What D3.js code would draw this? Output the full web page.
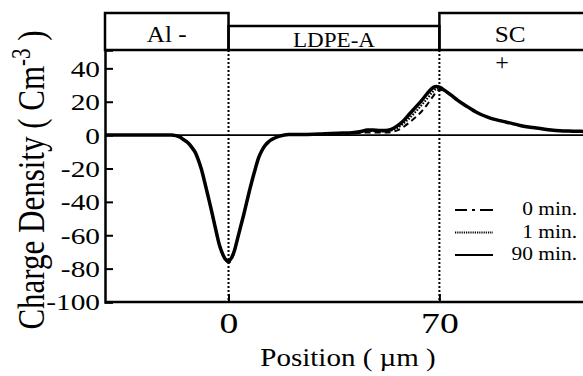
<!DOCTYPE html>
<html>
<head>
<meta charset="utf-8">
<script src="https://cdn.jsdelivr.net/npm/d3@7"></script>
<style>
  body { margin: 0; background: #fff; }
  svg { display: block; }
  text { font-family: 'Liberation Serif', 'Times New Roman', serif; fill: #000; }
</style>
</head>
<body>
<svg id="chart" width="583" height="376"></svg>
<script>
const positions = [-41, -25, -19, -17.5, -16, -15, -14, -13, -12, -11, -10, -9, -8, -7, -6, -5, -4, -3, -2, -1,
  0, 1, 2, 3, 4, 5, 6, 7, 8, 9, 10, 11, 12, 13, 14, 15,
  17, 20, 25, 30, 34, 38, 41, 44, 46, 48, 50, 52, 54, 56, 58, 60, 62, 64, 66, 68, 69, 70,
  72, 74, 76, 78, 80, 82, 84, 86, 88, 90, 92, 95, 98, 101, 104, 107, 110, 113, 116, 118]
const min0 = [0, 0, 0, -0.3, -1.3, -2.6, -3.8, -5.5, -7.8, -10.5, -15, -20.5, -27.5, -35, -42.5, -50.5, -58.5, -66, -71.5, -75,
  -76.5, -74.5, -69.5, -62, -55, -48, -40.5, -33, -26, -19.5, -13.5, -9.5, -6.5, -4.5, -3, -2,
  -0.6, 0.2, 0.3, 0.5, 0.8, 1, 1.1, 1.4, 1.6, 1.6, 1.5, 1.5, 1.8, 2.8, 4.8, 7.5, 10.5, 14, 18.5, 23.5, 26, 27.2,
  26.3, 23.8, 21, 18.5, 16.3, 14, 12.2, 10.8, 9.6, 8.7, 7.9, 6.6, 5.3, 4.5, 3.8, 3.1, 2.6, 2.4, 2.3, 2.2]
const min1 = [0, 0, 0, -0.3, -1.3, -2.6, -3.8, -5.5, -7.8, -10.5, -15, -20.5, -27.5, -35, -42.5, -50.5, -58.5, -66, -71, -74.5,
  -76, -74, -69, -62, -55, -48, -40.5, -33, -26, -19.5, -13.5, -9.5, -6.5, -4.5, -3, -2,
  -0.6, 0.3, 0.4, 0.6, 1, 1.2, 1.4, 1.8, 2.4, 2.4, 2.2, 2.2, 2.8, 4.2, 6.8, 10, 13.8, 17.8, 22, 26.3, 27.8, 28.2,
  26.4, 23.8, 21, 18.5, 16.3, 14, 12.2, 10.8, 9.6, 8.7, 7.9, 6.6, 5.3, 4.5, 3.8, 3.1, 2.6, 2.4, 2.3, 2.2]
const min90 = [0, 0, 0, -0.3, -1.3, -2.6, -3.8, -5.5, -7.8, -10.5, -15, -20.5, -27.5, -35, -42.5, -50.5, -58.5, -66, -71, -74.5,
  -75.5, -73.5, -69, -62, -55, -48, -40.5, -33, -26, -19.5, -13.5, -9.5, -6.5, -4.5, -3, -2,
  -0.6, 0.3, 0.4, 0.6, 1, 1.2, 1.4, 2.2, 3, 3, 2.8, 2.8, 3.5, 5.5, 8.5, 12.5, 16.5, 20.5, 25, 28.6, 29.2, 28.8,
  26.5, 23.8, 21, 18.5, 16.3, 14, 12.2, 10.8, 9.6, 8.7, 7.9, 6.6, 5.3, 4.5, 3.8, 3.1, 2.6, 2.4, 2.3, 2.2]
const yTicks = [40, 20, 0, -20, -40, -60, -80, -100]
const xTicks = [0, 70]
const layerNames = ['Al -', 'LDPE-A', 'SC']
const layerStart = [-41, 0, 70]
const layerEnd = [0, 70, 121]
const layerLabelAt = [-20.5, 35, 93.5]
const seriesNames = ['0 min.', '1 min.', '90 min.']

const svg = d3.select('#chart')
const xScale = d3.scaleLinear().domain([-41, 118]).range([105, 584])
const yScale = d3.scaleLinear().domain([-100, 51]).range([302, 50])
const dashStyle = ['6,4', '1.6,1.4', null]
const lineWidth = [2, 2, 3.5]
const serif = "'Liberation Serif', 'Times New Roman', serif"

// layer boxes on top
const tall = 13
const short = 26
layerNames.forEach((name, i) => {
  let top = i === 1 ? short : tall
  svg.append('rect')
    .attr('x', xScale(layerStart[i]))
    .attr('y', top)
    .attr('width', xScale(layerEnd[i]) - xScale(layerStart[i]))
    .attr('height', yScale(51) - top)
    .style('fill', 'none')
    .style('stroke', '#000')
    .style('stroke-width', 2.5)
  svg.append('text')
    .attr('transform', `translate(${xScale(layerLabelAt[i])},${i === 1 ? 47 : 42}) scale(1.05,1)`)
    .attr('text-anchor', 'middle')
    .style('font-family', serif)
    .style('font-size', i === 1 ? '22px' : '24px')
    .text(name)
})
svg.append('text')
  .attr('transform', `translate(${xScale(90.8)},70)`)
  .attr('text-anchor', 'middle')
  .style('font-family', serif)
  .style('font-size', '24px')
  .text('+')

// dotted interface lines
xTicks.forEach(v => {
  svg.append('line')
    .attr('x1', xScale(v)).attr('x2', xScale(v))
    .attr('y1', yScale(51)).attr('y2', yScale(-100))
    .style('stroke', '#000')
    .style('stroke-width', 2)
    .style('stroke-dasharray', '2,2')
})

// zero line
svg.append('line')
  .attr('x1', xScale(-41)).attr('x2', 583)
  .attr('y1', yScale(0)).attr('y2', yScale(0))
  .style('stroke', '#000')
  .style('stroke-width', 1.6)

// curves
const line = d3.line()
  .x((d, i) => xScale(positions[i]))
  .y(d => yScale(d))
  .curve(d3.curveMonotoneX)
;[min0, min1, min90].forEach((series, i) => {
  svg.append('path')
    .datum(series)
    .attr('d', line)
    .style('fill', 'none')
    .style('stroke', '#000')
    .style('stroke-width', lineWidth[i])
    .style('stroke-dasharray', dashStyle[i])
    .style('stroke-linejoin', 'round')
})

// axes
let yAxis = svg.append('g')
  .attr('transform', `translate(${xScale(-41)},0)`)
  .call(d3.axisLeft(yScale).tickValues(yTicks).tickFormat(d => String(d)).tickSize(-8).tickPadding(4))
yAxis.select('.domain').style('stroke-width', 2.5)
yAxis.selectAll('.tick line').style('stroke-width', 2)
yAxis.selectAll('.tick text')
  .attr('font-family', null)
  .attr('font-size', null)
  .style('font-family', serif)
  .style('font-size', '23.5px')
  .attr('transform', 'scale(1.25,1)')
  .attr('dy', '0.34em')

let xAxis = svg.append('g')
  .attr('transform', `translate(0,${yScale(-100)})`)
  .call(d3.axisBottom(xScale).tickValues(xTicks).tickFormat(d => String(d)).tickSize(-8).tickPadding(4))
xAxis.select('.domain').style('stroke-width', 2.5).attr('d', `M${xScale(-41)},0H590`)
xAxis.selectAll('.tick line').style('stroke-width', 2)
xAxis.selectAll('.tick text')
  .attr('font-family', null)
  .attr('font-size', null)
  .style('font-family', serif)
  .style('font-size', '29px')
  .attr('y', 0)
  .attr('dy', null)
  .attr('transform', 'translate(0,31) scale(1.3,1)')

// axis titles
svg.append('text')
  .attr('transform', 'translate(348,366) scale(1.16,1)')
  .attr('text-anchor', 'middle')
  .style('font-family', serif)
  .style('font-size', '25px')
  .text('Position ( \u00b5m )')

let yLabel = svg.append('text')
  .attr('transform', 'translate(43.5,180) scale(1.25,1) rotate(-90)')
  .attr('text-anchor', 'middle')
  .style('font-family', serif)
  .style('font-size', '31px')
yLabel.append('tspan').text('Charge Density ( Cm')
yLabel.append('tspan').attr('dy', '-0.5em').style('font-size', '21px').text('-3')
yLabel.append('tspan').attr('dy', '0.34em').text(' )')

// legend
const legendX = [455, 493]
const legendY = [210, 232.5, 255]
const legendDash = ['12,5,3,5,13', '1.2,1', null]
seriesNames.forEach((name, i) => {
  svg.append('line')
    .attr('x1', legendX[0]).attr('x2', legendX[1])
    .attr('y1', legendY[i]).attr('y2', legendY[i])
    .style('stroke', '#000')
    .style('stroke-width', i === 2 ? 2 : 1.8)
    .style('stroke-dasharray', legendDash[i])
  svg.append('text')
    .attr('transform', `translate(577,${legendY[i] + 5}) scale(1.1,1)`)
    .attr('text-anchor', 'end')
    .style('font-family', serif)
    .style('font-size', '19.5px')
    .text(name)
})
</script>
</body>
</html>
